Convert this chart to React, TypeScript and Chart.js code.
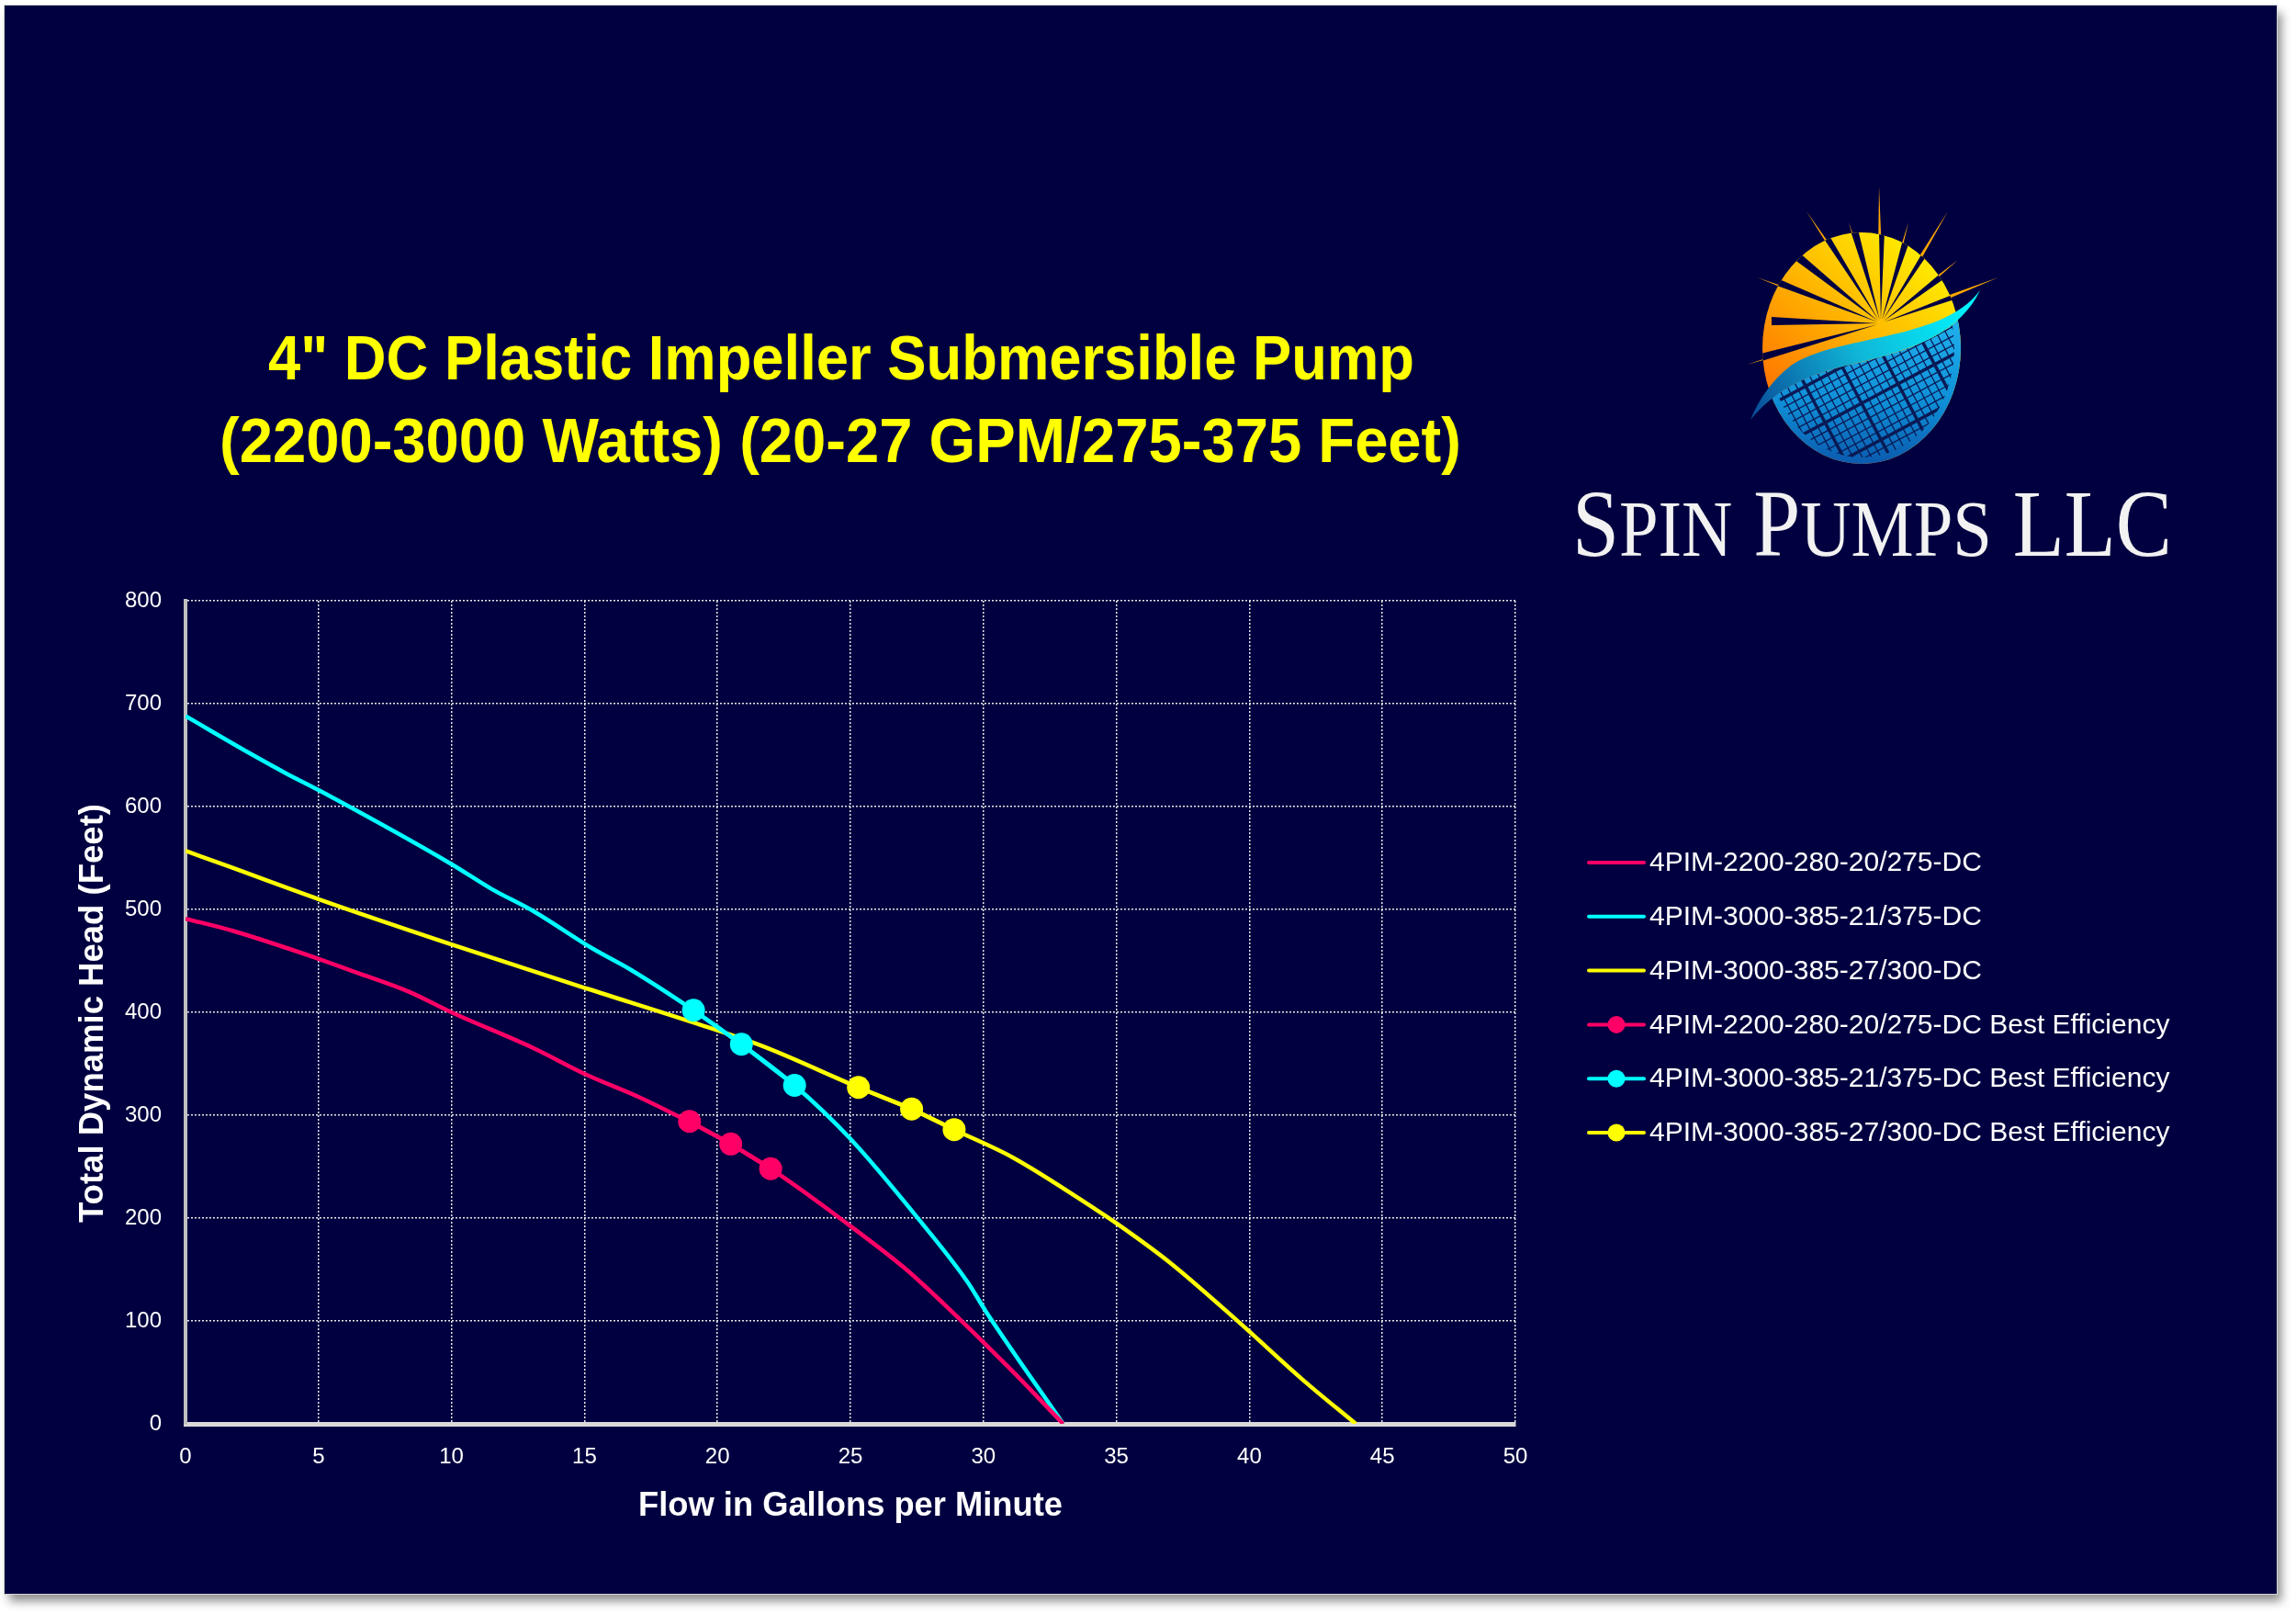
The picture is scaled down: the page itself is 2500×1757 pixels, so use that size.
import React, { useEffect, useRef } from "react";
import { Chart, registerables } from "chart.js";

Chart.register(...registerables);

// ---------- text ----------
const titleLines = ['4" DC Plastic Impeller Submersible Pump', "(2200-3000 Watts) (20-27 GPM/275-375 Feet)"];
const xAxisTitle = "Flow in Gallons per Minute";
const yAxisTitle = "Total Dynamic Head (Feet)";
const brandParts: [string, boolean][] = [
  ["S", true], ["PIN", false], [" ", true], ["P", true], ["UMPS", false], [" ", true], ["LLC", true],
];

const seriesNames = [
  "4PIM-2200-280-20/275-DC",
  "4PIM-3000-385-21/375-DC",
  "4PIM-3000-385-27/300-DC",
  "4PIM-2200-280-20/275-DC Best Efficiency",
  "4PIM-3000-385-21/375-DC Best Efficiency",
  "4PIM-3000-385-27/300-DC Best Efficiency",
];

// ---------- data (GPM, feet) ----------
const flow2200 = [0, 1.8, 5, 6.4, 8.4, 10, 13.1, 15.1, 17.1, 18.9, 20.5, 22.0, 24.7, 27.1, 29.1, 31.1, 33];
const head2200 = [491, 479, 452, 439, 420, 400, 365, 339, 317, 294, 272, 248, 198, 150, 102, 51, 0];

const flow3000a = [0, 2.4, 3.8, 5, 10, 11.5, 13.1, 15.3, 16.7, 19.1, 20.9, 22.9, 25, 27.5, 29.4, 30.1, 33];
const head3000a = [688, 652, 632, 616, 544, 520, 498, 462, 442, 402, 369, 329, 277, 201, 138, 109, 0];

const flow3000b = [0, 1.6, 5, 10, 15.1, 19.1, 21.7, 25.3, 27.3, 28.9, 31.1, 34.25, 35, 37, 39.6, 42, 44];
const head3000b = [557, 542, 510, 466, 423, 390, 367, 327, 306, 286, 259, 208, 195, 157, 99, 43, 0];

const bep2200Flow = [18.95, 20.5, 22.0];
const bep2200Head = [294, 272, 248];
const bep3000aFlow = [19.1, 20.9, 22.9];
const bep3000aHead = [402, 369, 329];
const bep3000bFlow = [25.3, 27.3, 28.9];
const bep3000bHead = [327, 306, 286];

const xMin = 0, xMax = 50, xStep = 5;
const yMin = 0, yMax = 800, yStep = 100;

const PINK = "#FF0066";
const CYAN = "#00FFFF";
const YELLOW = "#FFFF00";
const NAVY = "#000040";
const W = 2500, H = 1757;
const SANS = '"Liberation Sans", Arial, sans-serif';

const pts = (xs: number[], ys: number[]) => xs.map((x, i) => ({ x, y: ys[i] }));

function fitText(ctx: CanvasRenderingContext2D, text: string, x: number, y: number, width: number) {
  const m = ctx.measureText(text).width;
  ctx.save();
  ctx.translate(x, y);
  ctx.scale(width / m, 1);
  ctx.textAlign = "center";
  ctx.fillText(text, 0, 0);
  ctx.restore();
}

function drawLogo(ctx: CanvasRenderingContext2D) {
  const cx = 2027, cy = 379, rx = 108, ry = 126;
  const ox = 2048, oy = 352;
  const tips = [
    [1902, 397], [1929, 353], [1913, 302], [1956, 283], [1967, 230], [2013, 242],
    [2046, 203], [2078, 242], [2121, 230], [2132, 283], [2176, 302],
  ];
  ctx.save();
  // spikes outside sun
  ctx.beginPath();
  ctx.rect(1800, 150, 500, 450);
  ctx.ellipse(cx, cy, rx, ry, 0, 0, Math.PI * 2);
  ctx.clip("evenodd");
  for (const [tx, ty] of tips) {
    const dx = tx - ox, dy = ty - oy;
    const L = Math.hypot(dx, dy);
    const nx = -dy / L, ny = dx / L;
    ctx.beginPath();
    ctx.moveTo(ox + nx * 4, oy + ny * 4);
    ctx.lineTo(tx, ty);
    ctx.lineTo(ox - nx * 4, oy - ny * 4);
    ctx.closePath();
    ctx.fillStyle = "#FFA800";
    ctx.fill();
  }
  ctx.restore();

  ctx.save();
  ctx.beginPath();
  ctx.ellipse(cx, cy, rx, ry, 0, 0, Math.PI * 2);
  ctx.clip();
  const sg = ctx.createLinearGradient(2090, 255, 1930, 440);
  sg.addColorStop(0, "#FFF200");
  sg.addColorStop(0.45, "#FFBB00");
  sg.addColorStop(1, "#FF7000");
  ctx.fillStyle = sg;
  ctx.fillRect(cx - rx, cy - ry, rx * 2, ry * 2);
  // dark rays inside the sun
  for (const [tx, ty] of tips) {
    const dx = tx - ox, dy = ty - oy;
    const L = Math.hypot(dx, dy);
    const ux = dx / L, uy = dy / L;
    const nx = -uy, ny = ux;
    ctx.beginPath();
    ctx.moveTo(ox + ux * 4, oy + uy * 4);
    ctx.lineTo(tx + nx * 8, ty + ny * 8);
    ctx.lineTo(tx - nx * 1, ty - ny * 1);
    ctx.closePath();
    ctx.fillStyle = NAVY;
    ctx.fill();
  }
  // blue panel region
  ctx.beginPath();
  ctx.moveTo(1880, 470);
  ctx.lineTo(1908, 455);
  ctx.bezierCurveTo(1930, 428, 1960, 410, 2010, 398);
  ctx.bezierCurveTo(2090, 380, 2135, 360, 2154, 318);
  ctx.lineTo(2200, 318);
  ctx.lineTo(2200, 560);
  ctx.lineTo(1880, 560);
  ctx.closePath();
  const bg = ctx.createLinearGradient(0, 340, 0, 505);
  bg.addColorStop(0, "#22B4F0");
  bg.addColorStop(0.6, "#0E8ED6");
  bg.addColorStop(1, "#0B5AAE");
  ctx.fillStyle = bg;
  ctx.fill();
  ctx.clip();
  ctx.beginPath();
  ctx.ellipse(cx, cy, rx - 7, ry - 7, 0, 0, Math.PI * 2);
  ctx.clip();
  ctx.strokeStyle = "#0A1A55";
  const a = (-28 * Math.PI) / 180;
  const u = [Math.cos(a), Math.sin(a)];
  const v = [-u[1], u[0]];
  for (let k = -30; k <= 30; k++) {
    const off = k * 9;
    ctx.lineWidth = k % 5 === 0 ? 3.5 : 1.3;
    ctx.beginPath();
    ctx.moveTo(cx + v[0] * off - u[0] * 300, cy + 60 + v[1] * off - u[1] * 300);
    ctx.lineTo(cx + v[0] * off + u[0] * 300, cy + 60 + v[1] * off + u[1] * 300);
    ctx.stroke();
    ctx.beginPath();
    ctx.moveTo(cx + u[0] * off - v[0] * 300, cy + 60 + u[1] * off - v[1] * 300);
    ctx.lineTo(cx + u[0] * off + v[0] * 300, cy + 60 + u[1] * off + v[1] * 300);
    ctx.stroke();
  }
  ctx.restore();

  // swoosh
  ctx.save();
  ctx.beginPath();
  ctx.moveTo(2156, 316);
  ctx.bezierCurveTo(2115, 372, 2000, 364, 1950, 398);
  ctx.bezierCurveTo(1930, 413, 1915, 435, 1906, 457);
  ctx.bezierCurveTo(1930, 428, 1960, 410, 2010, 398);
  ctx.bezierCurveTo(2090, 380, 2135, 360, 2156, 316);
  ctx.closePath();
  const wg = ctx.createLinearGradient(2150, 330, 1910, 450);
  wg.addColorStop(0, "#00F6FF");
  wg.addColorStop(0.5, "#10B8D8");
  wg.addColorStop(1, "#0A4E9A");
  ctx.fillStyle = wg;
  ctx.fill();
  ctx.restore();

  // brand text
  ctx.save();
  ctx.fillStyle = "#F2F2F2";
  ctx.textBaseline = "alphabetic";
  ctx.textAlign = "left";
  const big = '103px "Liberation Serif", serif';
  const small = '86px "Liberation Serif", serif';
  let total = 0;
  const widths = brandParts.map(([t, b]) => {
    ctx.font = b ? big : small;
    const w = ctx.measureText(t).width;
    total += w;
    return w;
  });
  const s = 653 / total;
  ctx.translate(1712, 605);
  ctx.scale(s, 1);
  let x = 0;
  brandParts.forEach(([t, b], i) => {
    ctx.font = b ? big : small;
    ctx.fillText(t, x, 0);
    x += widths[i];
  });
  ctx.restore();
}

const decorPlugin = {
  id: "decor",
  beforeDraw(chart: any) {
    const ctx: CanvasRenderingContext2D = chart.ctx;
    ctx.save();
    ctx.fillStyle = "#FFFFFF";
    ctx.fillRect(0, 0, W, H);
    ctx.shadowColor = "rgba(0,0,0,0.45)";
    ctx.shadowBlur = 10;
    ctx.shadowOffsetX = 5;
    ctx.shadowOffsetY = 8;
    ctx.fillStyle = NAVY;
    ctx.fillRect(5, 6, 2474, 1729);
    ctx.restore();
    ctx.save();
    ctx.strokeStyle = "#D4D4D4";
    ctx.lineWidth = 1;
    ctx.strokeRect(4.5, 5.5, 2475, 1730);
    ctx.restore();
  },
  afterDraw(chart: any) {
    const ctx: CanvasRenderingContext2D = chart.ctx;
    ctx.save();
    // title
    ctx.fillStyle = YELLOW;
    ctx.textBaseline = "alphabetic";
    ctx.font = `bold 69px ${SANS}`;
    fitText(ctx, titleLines[0], 916, 413, 1248);
    fitText(ctx, titleLines[1], 915, 503, 1352);
    // axis titles
    ctx.fillStyle = "#FFFFFF";
    ctx.font = `bold 37px ${SANS}`;
    fitText(ctx, xAxisTitle, 926, 1650, 462);
    ctx.save();
    ctx.translate(112, 1103);
    ctx.rotate(-Math.PI / 2);
    fitText(ctx, yAxisTitle, 0, 0, 456);
    ctx.restore();
    // legend
    ctx.font = `30px ${SANS}`;
    ctx.textAlign = "left";
    ctx.textBaseline = "middle";
    chart.data.datasets.forEach((ds: any, i: number) => {
      const y = 939 + i * 58.8;
      ctx.strokeStyle = ds.borderColor;
      ctx.lineWidth = 4;
      ctx.lineCap = "round";
      ctx.beginPath();
      ctx.moveTo(1730, y);
      ctx.lineTo(1790, y);
      ctx.stroke();
      if (ds.pointRadius > 0) {
        ctx.fillStyle = ds.pointBackgroundColor;
        ctx.beginPath();
        ctx.arc(1760, y, 9.5, 0, Math.PI * 2);
        ctx.fill();
      }
      ctx.fillStyle = "#FFFFFF";
      ctx.fillText(ds.label, 1796, y + 1);
    });
    drawLogo(ctx);
    ctx.restore();
  },
};

function curve(label: string, xs: number[], ys: number[], color: string) {
  return {
    label,
    data: pts(xs, ys),
    borderColor: color,
    backgroundColor: color,
    borderWidth: 4.5,
    pointRadius: 0,
    pointHoverRadius: 0,
    pointBackgroundColor: color,
    showLine: true,
    cubicInterpolationMode: "monotone",
    order: 2,
  };
}

function bep(label: string, xs: number[], ys: number[], color: string) {
  return {
    label,
    data: pts(xs, ys),
    borderColor: color,
    backgroundColor: color,
    borderWidth: 4.5,
    pointRadius: 12.5,
    pointHoverRadius: 12.5,
    pointBorderWidth: 0,
    pointBackgroundColor: color,
    pointBorderColor: color,
    showLine: true,
    order: 1,
  };
}

export default function App() {
  const ref = useRef<HTMLCanvasElement>(null);
  useEffect(() => {
    const canvas = ref.current!;
    const chart = new Chart(canvas, {
      type: "scatter",
      data: {
        datasets: [
          curve(seriesNames[0], flow2200, head2200, PINK),
          curve(seriesNames[1], flow3000a, head3000a, CYAN),
          curve(seriesNames[2], flow3000b, head3000b, YELLOW),
          bep(seriesNames[3], bep2200Flow, bep2200Head, PINK),
          bep(seriesNames[4], bep3000aFlow, bep3000aHead, CYAN),
          bep(seriesNames[5], bep3000bFlow, bep3000bHead, YELLOW),
        ] as any,
      },
      options: {
        responsive: false,
        animation: false,
        devicePixelRatio: 1,
        layout: { padding: { left: 0, right: 850, top: 654, bottom: 0 } },
        plugins: {
          legend: { display: false },
          title: { display: false },
          tooltip: { enabled: false },
        },
        events: [],
        scales: {
          x: {
            type: "linear",
            min: xMin,
            max: xMax,
            afterFit: (s: any) => { s.height = 207; },
            ticks: {
              stepSize: xStep,
              color: "#FFFFFF",
              font: { size: 24, family: SANS },
              padding: 22,
              maxRotation: 0,
              autoSkip: false,
            },
            grid: { color: "#E8E8E8", lineWidth: 1.5, drawTicks: false },
            border: { display: true, color: "#D9D9D9", width: 5, dash: [2, 2] },
          },
          y: {
            type: "linear",
            min: yMin,
            max: yMax,
            afterFit: (s: any) => { s.width = 202; },
            ticks: {
              stepSize: yStep,
              color: "#FFFFFF",
              font: { size: 24, family: SANS },
              padding: 26,
            },
            grid: { color: "#E8E8E8", lineWidth: 1.5, drawTicks: false },
            border: { display: true, color: "#BFBFBF", width: 4, dash: [2, 2] },
          },
        },
      } as any,
      plugins: [decorPlugin],
    });
    return () => chart.destroy();
  }, []);
  return (
    <div style={{ position: "fixed", left: 0, top: 0, width: W, height: H }}>
      <canvas ref={ref} width={W} height={H} style={{ display: "block", width: W, height: H }} />
    </div>
  );
}
